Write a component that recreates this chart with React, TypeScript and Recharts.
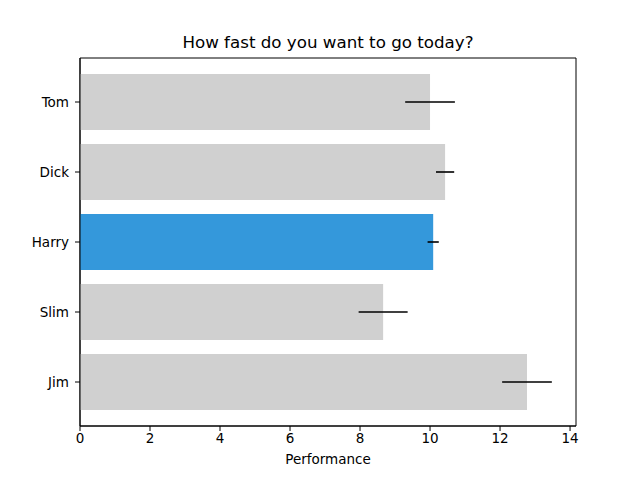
import { Bar, BarChart, CartesianGrid, Cell, ErrorBar, XAxis, YAxis } from "recharts";

const people = ["Tom", "Dick", "Harry", "Slim", "Jim"];
const performance = [10.0, 10.43, 10.09, 8.66, 12.77];
const spread = [0.71, 0.26, 0.16, 0.7, 0.71];
const xTicks = [0, 2, 4, 6, 8, 10, 12, 14];
const highlighted = "Harry";

const rows = people.map((name, i) => ({ name, value: performance[i], err: spread[i] }));

const font = "'DejaVu Sans', sans-serif";
const tickStyle = { fill: "#000", fontSize: 13.5, fontFamily: font };

// frame lines on the plot edges (matplotlib's four spines)
const frameH = ({ offset }: any) => [offset.top, offset.top + offset.height];
const frameV = ({ offset }: any) => [offset.left, offset.left + offset.width];

export default function App() {
  return (
    <div style={{ position: "absolute", left: 0, top: 0, width: 640, height: 480, background: "#fff" }}>
      <div
        style={{
          position: "absolute",
          left: 80,
          width: 496,
          top: 32,
          textAlign: "center",
          fontFamily: font,
          fontSize: 16.7,
          color: "#000",
        }}
      >
        How fast do you want to go today?
      </div>
      <BarChart
        width={640}
        height={480}
        data={rows}
        layout="vertical"
        barCategoryGap={7}
        margin={{ top: 58, right: 64, bottom: 14, left: 0 }}
      >
        <CartesianGrid
          stroke="#000"
          strokeWidth={1}
          horizontalCoordinatesGenerator={frameH}
          verticalCoordinatesGenerator={frameV}
        />
        <XAxis
          type="number"
          domain={[0, 14.17]}
          ticks={xTicks}
          allowDataOverflow
          stroke="#000"
          tick={tickStyle}
          tickSize={5}
          height={40}
          label={{ value: "Performance", position: "insideBottom", offset: 2, style: { fill: "#000", fontSize: 13.5, fontFamily: font } }}
        />
        <YAxis
          type="category"
          dataKey="name"
          stroke="#000"
          tick={{ ...tickStyle, dx: -4 }}
          tickSize={5}
          width={80}
          padding={{ top: 9, bottom: 9 }}
        />
        <Bar dataKey="value" isAnimationActive={false}>
          {rows.map((r) => (
            <Cell key={r.name} fill={r.name === highlighted ? "#3498db" : "#d0d0d0"} />
          ))}
          <ErrorBar dataKey="err" direction="x" width={0} stroke="#000" strokeWidth={1.6} />
        </Bar>
      </BarChart>
    </div>
  );
}
